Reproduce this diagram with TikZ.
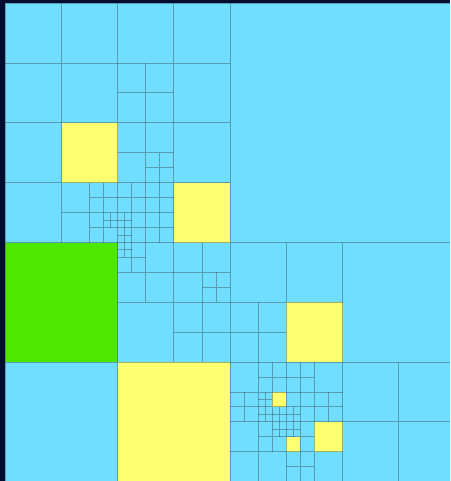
\documentclass[tikz,border=0pt]{standalone}
\usepackage{tikz}
\definecolor{NightBg}{RGB}{2,14,48}
\definecolor{CellBlue}{RGB}{112,223,255}
\definecolor{CellYellow}{RGB}{255,255,112}
\definecolor{CellGreen}{RGB}{76,232,0}
\definecolor{GridLine}{RGB}{60,75,90}

\begin{document}
\begin{tikzpicture}[
    x=56.2pt, y=-59.8pt,
    leaf/.style={fill=CellBlue},
    hot/.style={fill=CellYellow},
    seed/.style={fill=CellGreen},
    split/.style={draw=GridLine, draw opacity=0.45, line width=1pt},
]
% page frame, 450 x 481
\useasboundingbox[fill=NightBg] (-5.3pt,3.3pt) rectangle ++(450pt,-481pt);
\clip (-5.3pt,3.3pt) rectangle ++(450pt,-481pt);

\fill[leaf] (0,0) rectangle (8,8);

% coloured leaves
\fill[seed] (0,4) rectangle ++(2,2);
\fill[hot] (1,2) rectangle ++(1,1);
\fill[hot] (3,3) rectangle ++(1,1);
\fill[hot] (2,6) rectangle ++(2,2);
\fill[hot] (5,5) rectangle ++(1,1);
\fill[hot] (4.75,6.5) rectangle ++(.25,.25);
\fill[hot] (5,7.25) rectangle ++(.25,.25);
\fill[hot] (5.5,7) rectangle ++(.5,.5);

% every split cell x/y/size gets its cross
\foreach \x/\y/\s in {
    0/0/8,
    0/0/4, 0/4/4, 4/4/4,
    0/0/2, 2/0/2, 0/2/2, 2/2/2,
    2/1/1,
    1/3/1, 1.5/3/.5, 1.5/3.5/.5, 1.75/3.5/.25,
    2/2/1, 2.5/2.5/.5,
    2/3/1, 2/3/.5, 2.5/3/.5, 2/3.5/.5, 2.5/3.5/.5, 2/3.5/.25, 2/3.75/.25,
    2/4/2, 2/4/1, 2/4/.5, 2/4/.25, 3/4/1, 3.5/4.5/.5, 3/5/1,
    4/4/2, 4/5/1, 6/6/2, 4/6/2,
    4/6/1, 4.5/6/.5, 4/6.5/.5, 4.5/6.5/.5, 4.5/6.5/.25, 4.5/6.75/.25, 4.75/6.75/.25,
    5/6/1, 5/6/.5, 5/6.5/.5, 5/6.75/.25, 5.5/6.5/.5,
    4/7/1, 4.5/7/.5, 4.75/7/.25,
    5/7/1, 5/7/.5, 5/7/.25, 5/7.5/.5}
  \draw[split] ({\x+\s/2},\y) -- ++(0,\s) (\x,{\y+\s/2}) -- ++(\s,0);

\draw[split] (0,0) rectangle (8,8);
\end{tikzpicture}
\end{document}
